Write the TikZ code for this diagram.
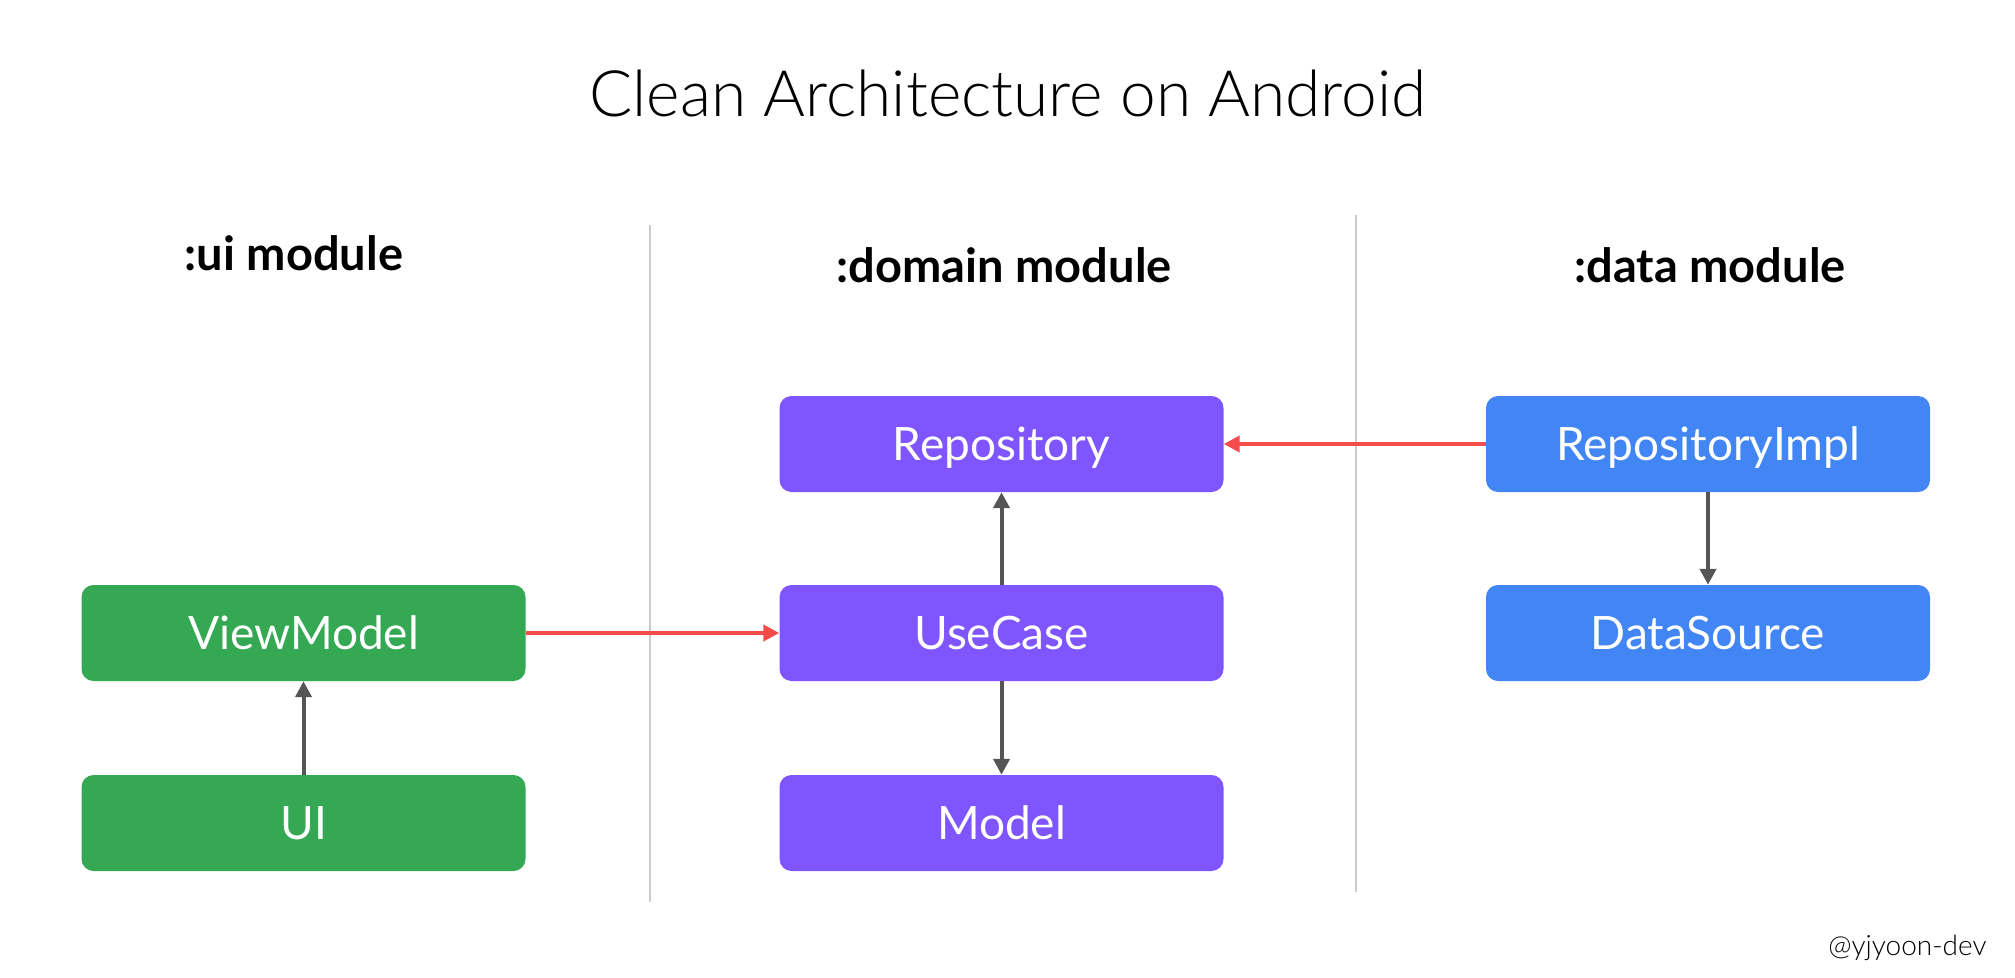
\documentclass[tikz,border=0pt]{standalone}
\usepackage{fontspec}
\setmainfont{Lato}
\newfontfamily\lightfont{Lato Light}
\usetikzlibrary{arrows.meta}
\definecolor{uigreen}{HTML}{34A853}
\definecolor{dompurple}{HTML}{7F55FF}
\definecolor{datablue}{HTML}{4285F4}
\definecolor{redarrow}{HTML}{F44B4B}
\definecolor{greyarrow}{HTML}{555555}
\definecolor{divider}{HTML}{CCCCCC}
\tikzset{
  box/.style={rectangle, rounded corners=12pt, minimum width=444pt, minimum height=96pt,
    inner sep=0pt, text=white, font=\fontsize{46}{55}\selectfont,
    text height=33pt, text depth=0pt},
  uibox/.style={box, fill=uigreen},
  dombox/.style={box, fill=dompurple},
  databox/.style={box, fill=datablue},
  heading/.style={anchor=base, font=\bfseries\fontsize{47}{56}\selectfont},
  deparrow/.style={line width=4pt, greyarrow, -{Triangle[length=16pt,width=16pt]}},
  crossarrow/.style={line width=4pt, redarrow, -{Triangle[length=16pt,width=16pt]}},
  divline/.style={line width=1.5pt, divider}
}
\begin{document}
\begin{tikzpicture}[x=1pt,y=-1pt]
\useasboundingbox (0,0) rectangle (2015,977);
\fill[white] (0,0) rectangle (2015,977);

\node[anchor=base, font=\lightfont\fontsize{64}{76}\selectfont] (title) at (1008,116) {Clean Architecture on Android};

\node[heading] (hui) at (294,270) {:ui module};
\node[heading] (hdom) at (1004,282) {:domain module};
\node[heading] (hdata) at (1710,282) {:data module};

\coordinate (d1t) at (650,225);
\coordinate (d1b) at (650,902);
\coordinate (d2t) at (1356,215);
\coordinate (d2b) at (1356,892);
\draw[divline] (d1t) -- (d1b);
\draw[divline] (d2t) -- (d2b);

\node[uibox] (viewmodel) at (303.5,633) {ViewModel};
\node[uibox] (ui) at (303.5,823) {UI};

\node[dombox] (repo) at (1001.5,444) {Repository};
\node[dombox] (usecase) at (1001.5,633) {UseCase};
\node[dombox] (model) at (1001.5,823) {Model};

\node[databox] (repoimpl) at (1708,444) {RepositoryImpl};
\node[databox] (datasource) at (1708,633) {DataSource};

\draw[deparrow] (ui.north) -- (viewmodel.south);
\draw[deparrow] (usecase.north) -- (repo.south);
\draw[deparrow] (usecase.south) -- (model.north);
\draw[deparrow] (repoimpl.south) -- (datasource.north);

\draw[crossarrow] (viewmodel.east) -- (usecase.west);
\draw[crossarrow] (repoimpl.west) -- (repo.east);

\node[anchor=base east, font=\lightfont\fontsize{28}{34}\selectfont] (credit) at (1990,955) {@yjyoon-dev};
\end{tikzpicture}
\end{document}
